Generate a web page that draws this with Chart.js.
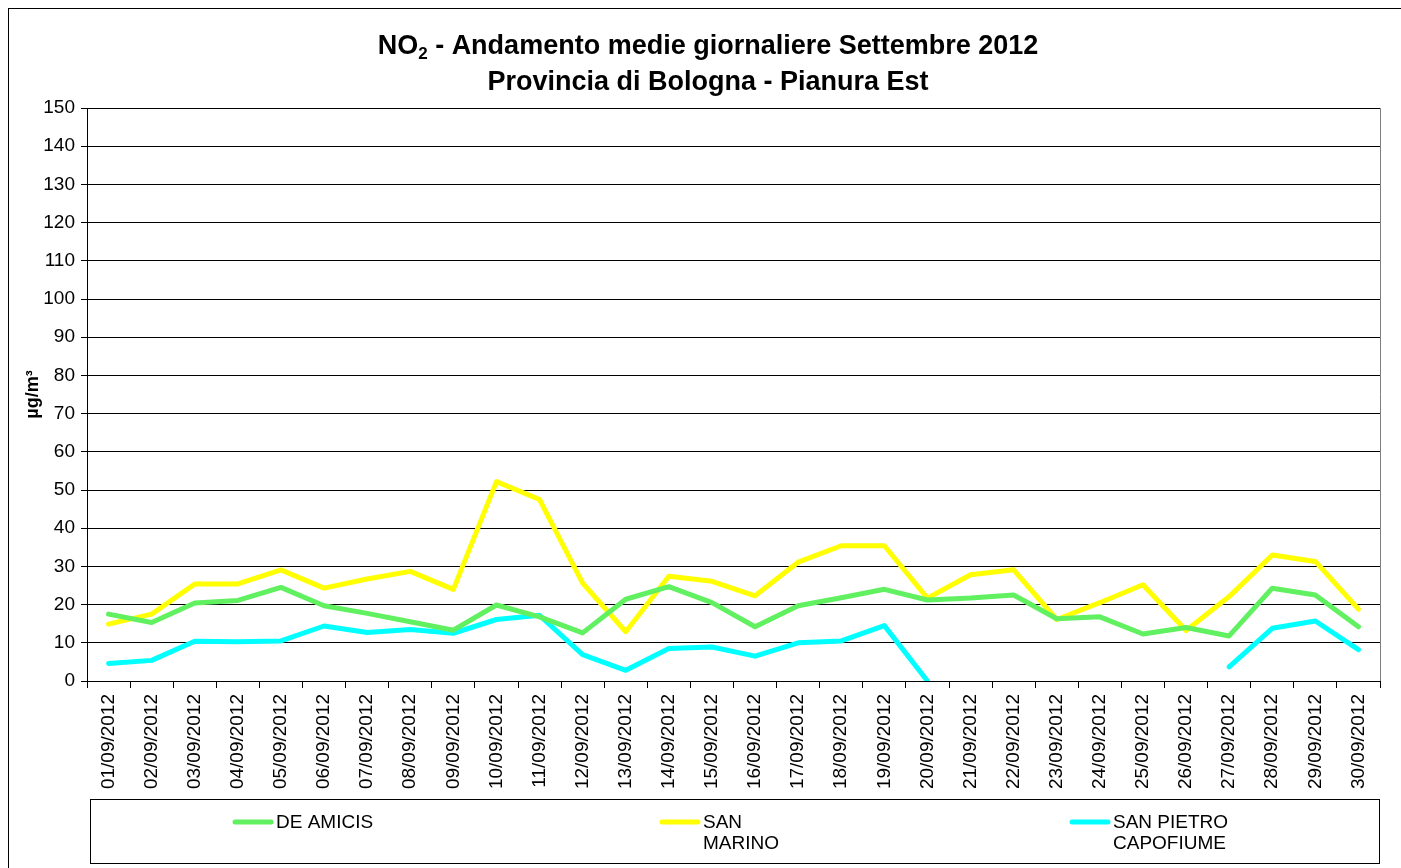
<!DOCTYPE html>
<html>
<head>
<meta charset="utf-8">
<title>NO2 - Pianura Est</title>
<script src="https://cdn.jsdelivr.net/npm/chart.js@4.4.0/dist/chart.umd.min.js"></script>
<style>
  body { margin: 0; background: #fff; }
  canvas { display: block; }
</style>
</head>
<body>
<canvas id="chart" width="1401" height="868"></canvas>
<script>
// Data (µg/m³, daily means, September 2012)
const days = [];
for (let d = 1; d <= 30; d++) days.push(String(d).padStart(2, "0") + "/09/2012");

const deAmicis = [17.5, 15.3, 20.4, 21.1, 24.5, 19.7, 17.7, 15.5, 13.3, 19.9,
                  16.8, 12.6, 21.4, 24.7, 20.5, 14.2, 19.7, 21.8, 24.0, 21.2,
                  21.7, 22.5, 16.3, 16.8, 12.3, 14.0, 11.8, 24.3, 22.5, 14.2];
const sanMarino = [14.9, 17.5, 25.4, 25.4, 29.1, 24.3, 26.7, 28.7, 24.0, 52.2,
                   47.5, 25.6, 12.9, 27.4, 26.1, 22.3, 31.1, 35.4, 35.4, 21.7,
                   27.8, 29.1, 16.1, 20.5, 25.2, 13.2, 22.1, 33.0, 31.3, 18.8];
const sanPietro = [4.6, 5.4, 10.4, 10.3, 10.5, 14.4, 12.7, 13.5, 12.5, 16.1,
                   17.2, 6.9, 2.8, 8.5, 8.9, 6.5, 10.0, 10.5, 14.5, 0,
                   null, null, null, null, null, null, 3.7, 13.8, 15.7, 8.2];

const seriesNames = [["DE AMICIS"], ["SAN", "MARINO"], ["SAN PIETRO", "CAPOFIUME"]];
const seriesColors = ["#60F060", "#FFFF00", "#00FFFF"];
const titleLines = ["Andamento medie giornaliere Settembre 2012", "Provincia di Bologna - Pianura Est"];

const FONT = "'Liberation Sans', Arial, sans-serif";

// Title, outer frame, plot right edge and legend box
const decorPlugin = {
  id: "decor",
  beforeDraw(chart) {
    const ctx = chart.ctx;
    ctx.save();
    ctx.fillStyle = "#fff";
    ctx.fillRect(0, 0, chart.width, chart.height);
    ctx.restore();
  },
  afterDraw(chart) {
    const ctx = chart.ctx;
    const area = chart.chartArea;
    ctx.save();

    // outer frame (runs off the right/bottom edge)
    ctx.strokeStyle = "#000";
    ctx.lineWidth = 1;
    ctx.strokeRect(8.5, 8.5, 1500, 1000);

    // plot right border
    ctx.strokeStyle = "#808080";
    ctx.beginPath();
    ctx.moveTo(Math.round(area.right) + 0.5, area.top);
    ctx.lineTo(Math.round(area.right) + 0.5, area.bottom);
    ctx.stroke();

    // title line 1 with NO2 subscript
    const cx = 708;
    ctx.fillStyle = "#000";
    ctx.textBaseline = "alphabetic";
    ctx.font = "bold 27px " + FONT;
    const wNO = ctx.measureText("NO").width;
    const rest = " - " + titleLines[0];
    const wRest = ctx.measureText(rest).width;
    ctx.font = "bold 17px " + FONT;
    const w2 = ctx.measureText("2").width;
    let x = cx - (wNO + w2 + wRest) / 2;
    ctx.textAlign = "left";
    ctx.font = "bold 27px " + FONT;
    ctx.fillText("NO", x, 54);
    ctx.font = "bold 17px " + FONT;
    ctx.fillText("2", x + wNO, 59);
    ctx.font = "bold 27px " + FONT;
    ctx.fillText(rest, x + wNO + w2, 54);

    ctx.textAlign = "center";
    ctx.fillText(titleLines[1], cx, 90);

    // legend box
    ctx.strokeStyle = "#000";
    ctx.lineWidth = 1;
    ctx.strokeRect(90.5, 799.5, 1289, 64);
    const itemX = [233, 660, 1070];
    ctx.font = "19px " + FONT;
    ctx.textAlign = "left";
    ctx.textBaseline = "middle";
    chart.data.datasets.forEach((ds, i) => {
      ctx.strokeStyle = ds.borderColor;
      ctx.lineWidth = 5;
      ctx.lineCap = "round";
      ctx.beginPath();
      ctx.moveTo(itemX[i] + 2, 822);
      ctx.lineTo(itemX[i] + 38, 822);
      ctx.stroke();
      ctx.fillStyle = "#000";
      ds.label.forEach((line, j) => {
        ctx.fillText(line, itemX[i] + 43, 823 + j * 21);
      });
    });
    ctx.restore();
  }
};

const datasets = [deAmicis, sanMarino, sanPietro].map((vals, i) => ({
  label: seriesNames[i],
  data: vals,
  borderColor: seriesColors[i],
  backgroundColor: seriesColors[i],
  borderWidth: 5,
  pointRadius: 0,
  tension: 0,
  spanGaps: false,
  borderCapStyle: "round",
  borderJoinStyle: "round"
}));

new Chart(document.getElementById("chart"), {
  type: "line",
  data: { labels: days, datasets: datasets },
  options: {
    responsive: false,
    animation: false,
    devicePixelRatio: 1,
    layout: { padding: { top: 108, left: 20, right: 21, bottom: 77 } },
    plugins: {
      legend: { display: false },
      title: { display: false },
      tooltip: { enabled: false }
    },
    scales: {
      x: {
        offset: true,
        grid: { display: true, offset: true, drawOnChartArea: false, tickLength: 7, color: "#000" },
        border: { display: true, color: "#000", width: 1 },
        ticks: {
          autoSkip: false,
          minRotation: 90,
          maxRotation: 90,
          padding: 6,
          color: "#000",
          font: { family: FONT, size: 19 }
        },
        afterFit(scale) { scale.height = 110; }
      },
      y: {
        min: 0,
        max: 150,
        ticks: {
          stepSize: 10,
          padding: 6,
          color: "#000",
          font: { family: FONT, size: 19 }
        },
        grid: { color: "#000", tickLength: 6, lineWidth: 1 },
        border: { display: true, color: "#000", width: 1 },
        title: {
          display: true,
          text: "µg/m³",
          color: "#000",
          font: { family: FONT, size: 18, weight: "bold" },
          padding: { top: 2, bottom: 0 }
        },
        afterFit(scale) { scale.width = 67; }
      }
    }
  },
  plugins: [decorPlugin]
});
</script>
</body>
</html>
